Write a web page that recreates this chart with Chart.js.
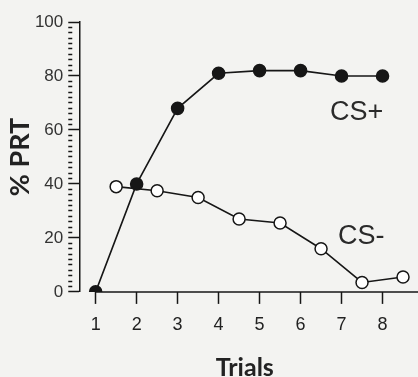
<!DOCTYPE html>
<html>
<head>
<script src="https://cdn.jsdelivr.net/npm/chart.js"></script>
<style>
  body { margin: 0; padding: 0; background: #f3f3f1; }
  #wrap { width: 418px; height: 377px; }
</style>
</head>
<body>
<div id="wrap"><canvas id="myChart"></canvas></div>
<script>
// trials for CS+, half-trial offsets for CS-
const trials = [1, 2, 3, 4, 5, 6, 7, 8];
const csPlus = [0, 40, 68, 81, 82, 82, 80, 80];
const csMinusTrials = [1.5, 2.5, 3.5, 4.5, 5.5, 6.5, 7.5, 8.5];
const csMinus = [39, 37.5, 35, 27, 25.5, 16, 3.5, 5.5];
const yTicks = [0, 20, 40, 60, 80, 100];

const ink = '#161616';

// x axis line starts at trial 1 and runs to the page edge
const axisLine = {
  id: 'axisLine',
  beforeDatasetsDraw(chart) {
    const { ctx, scales } = chart;
    const y = scales.y.getPixelForValue(0);
    ctx.save();
    ctx.strokeStyle = ink;
    ctx.lineWidth = 1.5;
    ctx.beginPath();
    ctx.moveTo(scales.x.getPixelForValue(trials[0]), y);
    ctx.lineTo(chart.width, y);
    ctx.stroke();
    ctx.restore();
  }
};

// series names written next to the curves
const seriesLabels = {
  id: 'seriesLabels',
  afterDatasetsDraw(chart, args, opts) {
    const { ctx, scales } = chart;
    ctx.save();
    ctx.font = opts.font;
    ctx.fillStyle = opts.color;
    ctx.textAlign = 'center';
    ctx.textBaseline = 'middle';
    opts.items.forEach(it => {
      ctx.fillText(it.text, scales.x.getPixelForValue(it.x), scales.y.getPixelForValue(it.y));
    });
    ctx.restore();
  }
};

new Chart(document.getElementById('myChart'), {
  type: 'scatter',
  plugins: [axisLine, seriesLabels],
  data: {
    datasets: [
      {
        label: 'CS+',
        data: trials.map((t, i) => ({ x: t, y: csPlus[i] })),
        showLine: true,
        borderColor: ink,
        borderWidth: 1.6,
        pointBackgroundColor: ink,
        pointBorderColor: ink,
        pointRadius: 6,
        order: 0
      },
      {
        label: 'CS-',
        data: csMinusTrials.map((t, i) => ({ x: t, y: csMinus[i] })),
        showLine: true,
        borderColor: ink,
        borderWidth: 1.6,
        pointBackgroundColor: '#ffffff',
        pointBorderColor: ink,
        pointBorderWidth: 1.5,
        pointRadius: 6,
        order: 1
      }
    ]
  },
  options: {
    responsive: true,
    maintainAspectRatio: false,
    animation: false,
    layout: { padding: { top: 22, left: 11, right: 0, bottom: 0 } },
    plugins: {
      legend: { display: false },
      tooltip: { enabled: false },
      seriesLabels: {
        font: '27px "Liberation Sans", sans-serif',
        color: '#2a2a2a',
        items: [
          { text: 'CS+', x: 7.37, y: 66.5 },
          { text: 'CS-', x: 7.48, y: 20.4 }
        ]
      }
    },
    scales: {
      x: {
        type: 'linear',
        min: 0.6,
        max: 8.68,
        afterBuildTicks: scale => { scale.ticks = trials.map(v => ({ value: v })); },
        border: { display: false },
        grid: { drawOnChartArea: false, tickLength: 12, tickColor: ink, tickWidth: 1.5 },
        ticks: {
          padding: 10,
          color: '#222',
          font: { family: '"Liberation Sans", sans-serif', size: 18 },
          callback: v => String(v)
        },
        title: {
          display: true,
          text: 'Trials',
          color: '#222',
          font: { family: 'Lato, sans-serif', size: 25, weight: 'bold', lineHeight: 0.7 },
          padding: { top: 14, bottom: 0 }
        }
      },
      y: {
        min: 0,
        max: 100,
        border: { display: true, color: ink, width: 1.5 },
        grid: {
          drawOnChartArea: false,
          tickLength: 11,
          tickColor: ink,
          tickWidth: 1.5,
          tickBorderDash: c => (c.tick && c.tick.value % 20 !== 0) ? [4, 30] : []
        },
        afterBuildTicks: scale => {
          const t = [];
          for (let v = 0; v <= 100; v += 2) t.push({ value: v });
          scale.ticks = t;
        },
        ticks: {
          autoSkip: false,
          padding: 5,
          color: '#333',
          font: { family: '"Liberation Sans", sans-serif', size: 17 },
          callback: v => yTicks.includes(v) ? String(v) : ''
        },
        title: {
          display: true,
          text: '% PRT',
          color: '#222',
          font: { family: 'Lato, sans-serif', size: 27, weight: 'bold', lineHeight: 0.7 },
          padding: { top: 0, bottom: 0 }
        }
      }
    }
  }
});
</script>
</body>
</html>
